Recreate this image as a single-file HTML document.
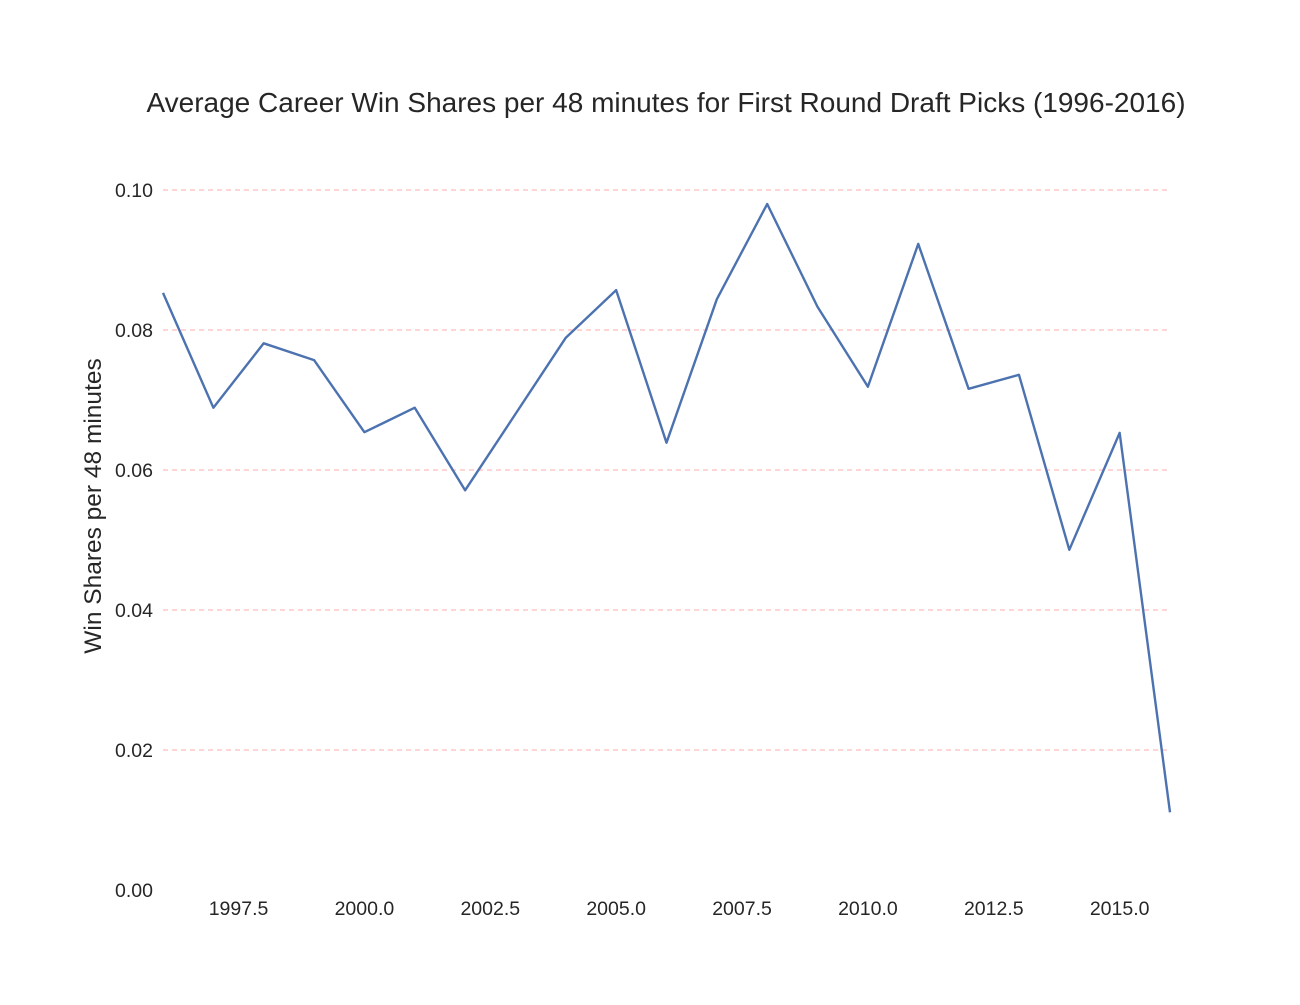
<!DOCTYPE html>
<html><head><meta charset="utf-8"><style>
html,body{margin:0;padding:0;background:#fff;}
svg text{font-family:"Liberation Sans",Arial,sans-serif;fill:#262626;}
</style></head><body>
<svg id="chart" width="1300" height="1000" xmlns="http://www.w3.org/2000/svg">
<rect width="1300" height="1000" fill="#fff"/>
<text x="666" y="112" font-size="28" text-anchor="middle">Average Career Win Shares per 48 minutes for First Round Draft Picks (1996-2016)</text>
<text transform="translate(101,506) rotate(-90)" font-size="24.5" text-anchor="middle">Win Shares per 48 minutes</text>
<g id="grid"></g><g id="yticks"></g><g id="xticks"></g><g id="series"></g>
</svg>
<script>
const years=[1996,1997,1998,1999,2000,2001,2002,2003,2004,2005,2006,2007,2008,2009,2010,2011,2012,2013,2014,2015,2016];
const ws48=[0.0853,0.0689,0.0781,0.0757,0.0654,0.0689,0.0571,0.0680,0.0789,0.0857,0.0639,0.0844,0.0980,0.0833,0.0719,0.0923,0.0716,0.0736,0.0486,0.0653,0.0111];
const yTicks=[0,0.02,0.04,0.06,0.08,0.10];
const yTickLabels=["0.00","0.02","0.04","0.06","0.08","0.10"];
const xTicks=[1997.5,2000,2002.5,2005,2007.5,2010,2012.5,2015];
const xTickLabels=["1997.5","2000.0","2002.5","2005.0","2007.5","2010.0","2012.5","2015.0"];
const NS="http://www.w3.org/2000/svg";
const x0=163,x1=1170,y0=890,y1=190;
const xs=v=>x0+(v-1996)/(2016-1996)*(x1-x0);
const ys=v=>y0-(v/0.10)*(y0-y1);
function mk(t,a,p){const e=document.createElementNS(NS,t);for(const k in a)e.setAttribute(k,a[k]);p.appendChild(e);return e;}
const grid=document.getElementById('grid'),yt=document.getElementById('yticks'),xt=document.getElementById('xticks'),se=document.getElementById('series');
yTicks.forEach((v,i)=>{
  if(v>0){const l=mk('line',{x1:x0,x2:x1,y1:ys(v),y2:ys(v),stroke:'#ffaaaa','stroke-width':1,'stroke-dasharray':'5,4'},grid);
  
  }
  const t=mk('text',{x:153,y:ys(v)+7,'font-size':19.5,'text-anchor':'end'},yt);t.textContent=yTickLabels[i];
  
  
});
xTicks.forEach((v,i)=>{
  const t=mk('text',{x:xs(v),y:915,'font-size':19.5,'text-anchor':'middle'},xt);t.textContent=xTickLabels[i];
  
  
});
const p=mk('polyline',{points:years.map((y,i)=>xs(y)+','+ys(ws48[i])).join(' '),fill:'none',stroke:'#4c72b0','stroke-width':2.4,'stroke-linejoin':'round'},se);


</script>
</body></html>
